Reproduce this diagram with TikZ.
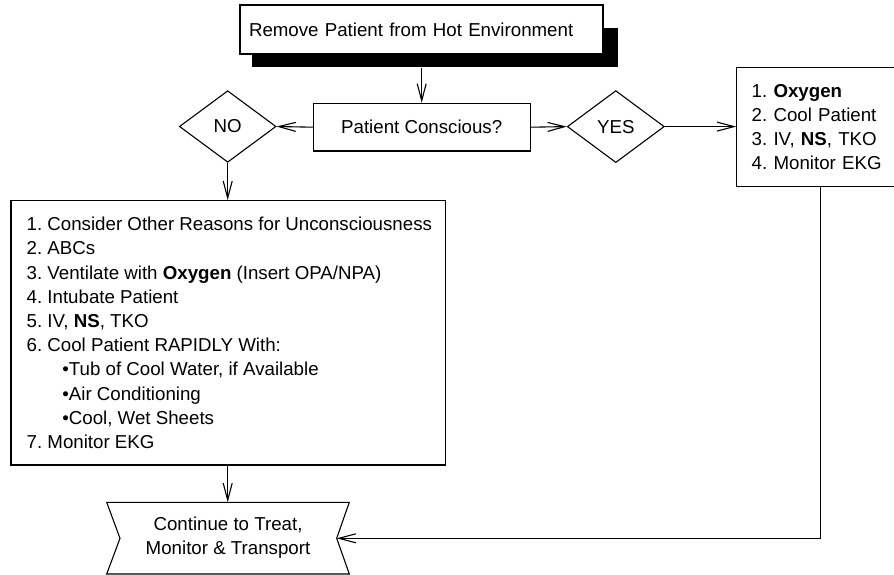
\documentclass[tikz,border=0pt]{standalone}
\usepackage{fontspec}
\setmainfont{Liberation Sans}
\usetikzlibrary{shapes.geometric,arrows.meta}
\newcommand{\ind}{\hspace*{2pt}}
\newcommand{\bul}{\hspace*{37.7pt}\textbullet}
\begin{document}
\frenchspacing
\begin{tikzpicture}[x=1pt,y=-1pt,
  line width=1.1pt,
  every node/.style={font=\fontsize{18.7}{24.2}\selectfont\frenchspacing, inner sep=0pt},
  box/.style={draw, rectangle},
  dec/.style={draw, diamond},
  arr/.style={-{Straight Barb[length=17pt,width=9pt]}}
]
\useasboundingbox (0,0) rectangle (894,575);
% shadowed start box
\node[fill=black, minimum width=366pt, minimum height=39pt] (shadow) at (435,47.5) {};
\node[box, fill=white, minimum width=363pt, minimum height=49pt, text width=345pt, align=left] (top) at (421.5,29.5) {Remove Patient from Hot Environment};
% decision row
\node[box, minimum width=216.7pt, minimum height=47.7pt] (pc) at (421.7,127.2) {Patient Conscious?};
\node[dec, minimum width=96.7pt, minimum height=71.6pt] (no) at (227.7,126.5) {NO};
\node[dec, minimum width=97pt, minimum height=72pt] (yes) at (615.8,126.6) {YES};
% right box
\node[box, minimum width=168.3pt, minimum height=119.4pt, text width=138.3pt, align=left] (rbox) at (820.85,127) {1. \textbf{Oxygen}\\2. Cool Patient\\3. IV, \textbf{NS}, TKO\\4. Monitor EKG};
% big box
\node[box, minimum width=434.7pt, minimum height=264.3pt, align=left] (big) at (228.35,332.85) {\ind 1. Consider Other Reasons for Unconsciousness\\\ind 2. ABCs\\\ind 3. Ventilate with \textbf{Oxygen} (Insert OPA/NPA)\\\ind 4. Intubate Patient\\\ind 5. IV, \textbf{NS}, TKO\\\ind 6. Cool Patient RAPIDLY With:\\\bul Tub of Cool Water, if Available\\\bul Air Conditioning\\\bul Cool, Wet Sheets\\\ind 7. Monitor EKG};
% continue shape
\draw (106.7,502.3) -- (349.3,502.3) -- (336.7,538.3) -- (349.3,574) -- (106.7,574) -- (120,538.3) -- cycle;
\node[align=center] (cont) at (228,537.7) {Continue to Treat,\\Monitor \& Transport};
\coordinate (conttop) at (227.7,502.3);
\coordinate (contright) at (336.7,538.3);
% connectors
\draw[arr] (shadow.south -| pc.north) -- (pc.north);
\draw[arr] (pc.west) -- (no.east);
\draw[arr] (pc.east) -- (yes.west);
\draw[arr] (yes.east) -- (rbox.west |- yes.east);
\draw[arr] (no.south) -- (no.south |- big.north);
\draw[arr] (big.south -| conttop) -- (conttop);
\draw[arr] (rbox.south) |- (contright);
\end{tikzpicture}
\end{document}
